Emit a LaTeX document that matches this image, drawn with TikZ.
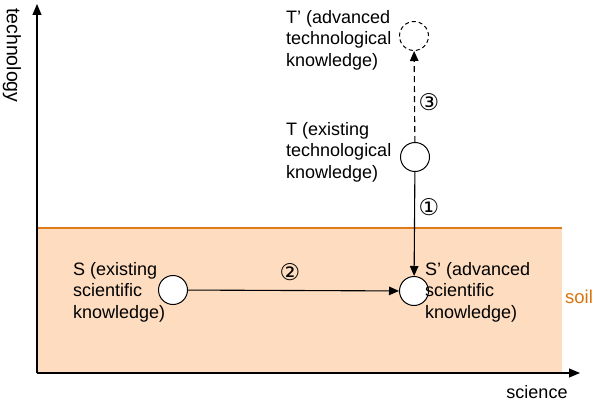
\documentclass[tikz,border=0pt]{standalone}
\usepackage{fontspec}
\setmainfont{Liberation Sans}
\newfontfamily\symfont{DejaVu Sans}
\usetikzlibrary{arrows.meta}
\definecolor{soilfill}{HTML}{FDDCBF}
\definecolor{soilline}{HTML}{E07B1A}
\definecolor{soiltext}{HTML}{D9730D}
\tikzset{
  knot/.style={circle, draw=black, fill=white, line width=1pt, minimum size=29pt, inner sep=0pt},
  dknot/.style={circle, draw=black, dash pattern=on 4pt off 3pt, line width=1pt, minimum size=29pt, inner sep=0pt},
  lbl/.style={anchor=north west, align=left, inner sep=0pt, font=\fontsize{18}{21.5}\selectfont},
  num/.style={inner sep=0pt, font=\symfont\fontsize{23}{23}\selectfont},
  conn/.style={line width=1.1pt, -{Triangle[length=10pt,width=8.5pt]}},
  axis/.style={line width=1.1pt, -{Triangle[length=11pt,width=9pt]}}
}
\begin{document}
\begin{tikzpicture}[x=1pt,y=-1pt]
\useasboundingbox (0,0) rectangle (594,404);
\fill[soilfill] (37,228) rectangle (562,373);
\draw[soilline, line width=1.2pt] (37,228) -- (562,228);
\coordinate (o) at (37,373);
\coordinate (ytop) at (37,4);
\coordinate (xend) at (580,373);
\draw[axis] (o) -- (ytop);
\draw[axis] (o) -- (xend);
\node[rotate=-90, anchor=west, inner sep=0pt, font=\fontsize{19.5}{19.5}\selectfont] (ylab) at (12,8) {technology};
\node[anchor=north, inner sep=0pt, font=\fontsize{18}{18}\selectfont] (xlab) at (537,385) {science};
\node[anchor=west, inner sep=0pt, text=soiltext, font=\fontsize{18.5}{18.5}\selectfont] (soil) at (565,297) {soil};

\node[knot] (S) at (173,290) {};
\node[knot] (Sp) at (414,291) {};
\node[knot] (T) at (415,157) {};
\node[dknot] (Tp) at (414,36) {};

\draw[conn] (S) -- (Sp);
\draw[conn] (T) -- (Sp);
\draw[conn, dash pattern=on 6pt off 4pt] (T) -- (Tp);

\node[num] (n1) at (429,207) {①};
\node[num] (n2) at (290,272) {②};
\node[num] (n3) at (429,102) {③};

\node[lbl] (Tplab) at (286,10) {T’ (advanced\\technological\\knowledge)};
\node[lbl] (Tlab) at (286,122) {T (existing\\technological\\knowledge)};
\node[lbl] (Slab) at (73,262) {S (existing\\scientific\\knowledge)};
\node[lbl] (Splab) at (425,262) {S’ (advanced\\scientific\\knowledge)};
\end{tikzpicture}
\end{document}
